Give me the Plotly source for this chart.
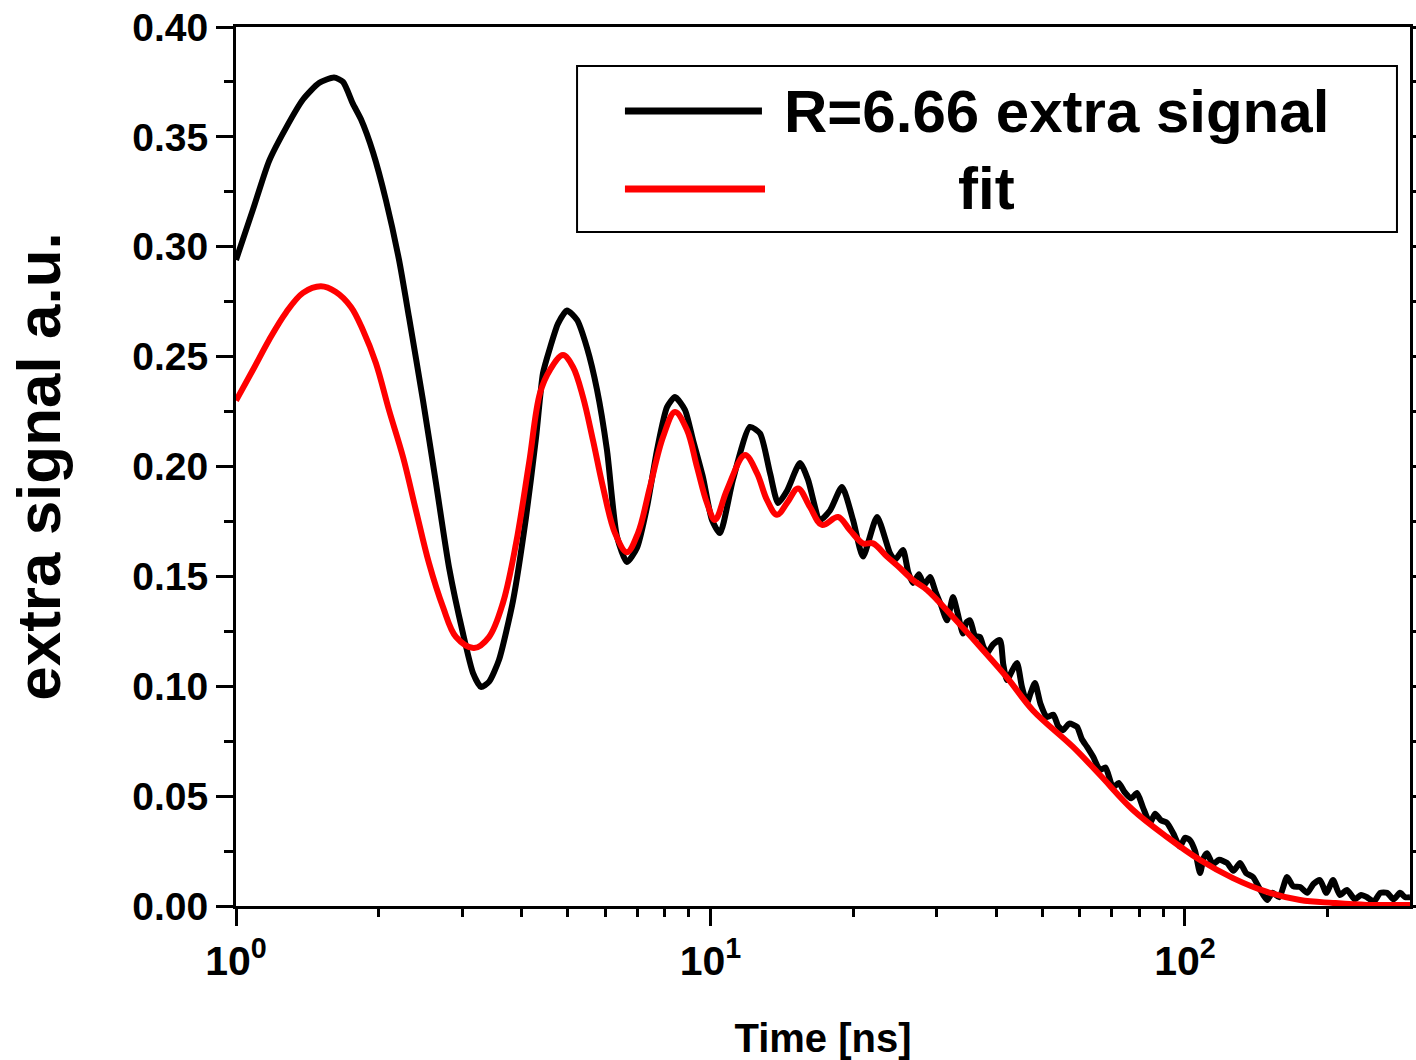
import plotly.graph_objects as go

# ---- data ----
series_names = ["R=6.66 extra signal", "fit"]

t_signal = [1.00, 1.086, 1.174, 1.274, 1.384, 1.496, 1.609, 1.681, 1.764, 1.834, 1.944, 2.071,
            2.206, 2.315, 2.478, 2.639, 2.812, 3.009, 3.159, 3.283, 3.413, 3.583, 3.836, 4.086,
            4.288, 4.436, 4.590, 4.771, 4.984, 5.232, 5.492, 5.765, 6.051, 6.353, 6.668, 7.000,
            7.347, 7.714, 8.097, 8.418, 8.837, 9.186, 9.643, 10.07, 10.47, 11.15, 12.11, 12.72,
            13.35, 13.88, 14.50, 15.44, 16.05, 17.01, 17.86, 18.93, 19.97, 20.96, 22.44, 23.89,
            24.48, 25.45, 26.1, 26.72, 27.5, 28.2, 29.02, 29.8, 30.6, 31.51, 32.44, 33.2, 34.05,
            34.6, 35.23, 36.1, 36.98, 37.6, 38.26, 39.4, 40.75, 41.4, 42.16, 43.2, 44.26, 45.3,
            46.45, 47.3, 48.29, 49.6, 51.19, 52.8, 54.0, 55.34, 57.0, 59.22, 60.6, 62.17, 64.0,
            66.22, 68.0, 70.52, 72.5, 74.5, 77.0, 79.22, 81.5, 84.38, 86.5, 89.0, 91.66, 94.5,
            97.61, 100.0, 102.4, 105.0, 107.6, 109.5, 111.3, 114.5, 118.0, 122.6, 126.5, 130.6,
            134.5, 139.1, 143.5, 148.9, 153.0, 158.0, 164.1, 169.0, 174.8, 181.0, 186.5, 192.5,
            198.5, 205.1, 212.0, 219.5, 228.0, 235.0, 241.9, 250.0, 258.0, 266.6, 275.0, 283.9,
            291.0, 298.0]
y_signal = [0.294, 0.317, 0.339, 0.354, 0.367, 0.3745, 0.377, 0.375, 0.365, 0.358, 0.343, 0.321,
            0.294, 0.268, 0.230, 0.1925, 0.154, 0.124, 0.106, 0.0997, 0.102, 0.112, 0.139, 0.177,
            0.213, 0.2425, 0.254, 0.265, 0.271, 0.2667, 0.254, 0.235, 0.2075, 0.168, 0.1565, 0.163,
            0.1815, 0.2075, 0.227, 0.2316, 0.2257, 0.212, 0.195, 0.1757, 0.1697, 0.194, 0.218, 0.215,
            0.197, 0.1834, 0.189, 0.2016, 0.194, 0.1757, 0.180, 0.1907, 0.1757, 0.159, 0.177, 0.1606,
            0.1575, 0.162, 0.152, 0.147, 0.151, 0.146, 0.1497, 0.143, 0.137, 0.130, 0.1406, 0.133, 0.124,
            0.129, 0.130, 0.123, 0.1224, 0.118, 0.115, 0.119, 0.121, 0.110, 0.1028, 0.107, 0.1106, 0.100,
            0.0924, 0.097, 0.1015, 0.092, 0.086, 0.087, 0.082, 0.080, 0.083, 0.0815, 0.076, 0.0724, 0.068,
            0.0619, 0.063, 0.054, 0.056, 0.052, 0.049, 0.0514, 0.045, 0.0378, 0.042, 0.039, 0.0378, 0.033,
            0.027, 0.031, 0.030, 0.025, 0.015, 0.022, 0.024, 0.019, 0.021, 0.0196, 0.016, 0.0196,
            0.015, 0.0132, 0.008, 0.0027, 0.006, 0.004, 0.0132, 0.009, 0.0086, 0.006, 0.010, 0.0118,
            0.006, 0.0118, 0.005, 0.0073, 0.003, 0.005, 0.004, 0.002, 0.006, 0.006, 0.003, 0.006,
            0.004, 0.004]

t_fit = [1.00, 1.086, 1.174, 1.274, 1.384, 1.51, 1.624, 1.747, 1.852, 1.972, 2.101, 2.249, 2.395,
         2.551, 2.731, 2.909, 3.174, 3.413, 3.653, 3.892, 4.146, 4.372, 4.590, 4.888, 5.131, 5.386,
         5.653, 5.934, 6.291, 6.668, 7.034, 7.455, 7.942, 8.418, 8.923, 9.366, 9.831, 10.22, 10.83,
         11.82, 12.53, 13.15, 13.81, 14.50, 15.29, 16.20, 17.18, 18.57, 19.68, 20.96, 22.00, 23.55,
         25.08, 26.72, 28.60, 32.44, 36.98, 42.16, 47.82, 58.08, 66.22, 77.70, 91.66, 107.6, 126.2,
         148.9, 174.8, 205.1, 241.9, 298.0]
y_fit = [0.230, 0.244, 0.2576, 0.270, 0.279, 0.282, 0.2794, 0.2726, 0.262, 0.247, 0.2257, 0.2043,
         0.180, 0.156, 0.136, 0.1224, 0.1174, 0.1224, 0.138, 0.165, 0.2016, 0.2334, 0.244, 0.2507,
         0.2453, 0.2316, 0.212, 0.1907, 0.1697, 0.161, 0.1697, 0.1907, 0.2134, 0.2248, 0.2166, 0.1998,
         0.1834, 0.1757, 0.1893, 0.2052, 0.197, 0.1848, 0.178, 0.1834, 0.190, 0.1816, 0.1734, 0.177,
         0.171, 0.165, 0.165, 0.159, 0.1538, 0.1483, 0.1438, 0.1315, 0.118, 0.104, 0.089, 0.0724,
         0.0596, 0.0437, 0.0314, 0.0209, 0.0127, 0.0064, 0.0027, 0.0014, 0.0005, 0.0005]

x_tickvals = [1, 10, 100]
x_ticktext = ["10<sup>0</sup>", "10<sup>1</sup>", "10<sup>2</sup>"]
x_minor_vals = [2, 3, 4, 5, 6, 7, 8, 9, 20, 30, 40, 50, 60, 70, 80, 90, 200, 300]

FONT = "Liberation Sans, Arial, sans-serif"

fig = go.Figure()
fig.add_trace(go.Scatter(x=t_signal, y=y_signal, mode="lines", name=series_names[0],
                         line=dict(color="black", width=6, shape="spline", smoothing=0.6),
                         showlegend=False))
fig.add_trace(go.Scatter(x=t_fit, y=y_fit, mode="lines", name=series_names[1],
                         line=dict(color="#ff0000", width=6, shape="spline"),
                         showlegend=False))

tickfont = dict(family=FONT, size=39, color="black", weight="bold")

fig.update_layout(
    width=1416, height=1060, autosize=False,
    margin=dict(l=236, r=6, t=27, b=154),
    paper_bgcolor="white", plot_bgcolor="white",
    xaxis=dict(type="log", range=[0, 2.4742], tickvals=x_tickvals, ticktext=x_ticktext,
               automargin=False,
               ticks="outside", ticklen=17, tickwidth=3, tickcolor="black",
               minor=dict(tickvals=x_minor_vals, ticks="outside", ticklen=8, tickwidth=3,
                          tickcolor="black", showgrid=False),
               showline=True, linewidth=3, linecolor="black", mirror=True,
               showgrid=False, zeroline=False,
               tickfont=dict(family=FONT, size=41, color="black", weight="bold"),
               title=dict(text="Time [ns]", font=dict(family=FONT, size=40, color="black", weight="bold"),
                          standoff=44)),
    xaxis2=dict(type="log", range=[0, 2.4742], overlaying="x", side="top", anchor="y",
                automargin=False,
                tickvals=x_tickvals, ticks="inside", ticklen=17, tickwidth=3, tickcolor="black",
                minor=dict(tickvals=x_minor_vals, ticks="inside", ticklen=8, tickwidth=3,
                           tickcolor="black", showgrid=False),
                showticklabels=False, showline=False, showgrid=False, zeroline=False),
    yaxis=dict(range=[0, 0.40], dtick=0.05, tickformat=".2f", automargin=False,
               ticks="outside", ticklen=17, tickwidth=3, tickcolor="black",
               minor=dict(dtick=0.025, ticks="outside", ticklen=9, tickwidth=3,
                          tickcolor="black", showgrid=False),
               showline=True, linewidth=3, linecolor="black", mirror="ticks",
               showgrid=False, zeroline=False, tickfont=tickfont,
               title=dict(text="extra signal a.u.", font=dict(family=FONT, size=62, color="black", weight="bold"),
                          standoff=52)),
)

# manual legend (box, line samples, labels)
fig.add_shape(type="rect", xref="paper", yref="paper", x0=0.2905, x1=0.9889, y0=0.7668, y1=0.9556,
              line=dict(color="black", width=2), fillcolor="white", layer="above")
fig.add_shape(type="line", xref="paper", yref="paper", x0=0.3313, x1=0.4480, y0=0.9044, y1=0.9044,
              line=dict(color="black", width=7), layer="above")
fig.add_shape(type="line", xref="paper", yref="paper", x0=0.3313, x1=0.4506, y0=0.8157, y1=0.8157,
              line=dict(color="#ff0000", width=7), layer="above")
fig.add_annotation(xref="paper", yref="paper", x=0.4651, y=0.9044, xanchor="left", yanchor="middle",
                   text=series_names[0], showarrow=False,
                   font=dict(family=FONT, size=60, color="black", weight="bold"))
fig.add_annotation(xref="paper", yref="paper", x=0.6393, y=0.8157, xanchor="center", yanchor="middle",
                   text=series_names[1], showarrow=False,
                   font=dict(family=FONT, size=60, color="black", weight="bold"))

fig.write_html("out.html", config={"responsive": False, "displayModeBar": False},
               post_script="document.body.style.margin='0';document.body.style.overflow='hidden';")
